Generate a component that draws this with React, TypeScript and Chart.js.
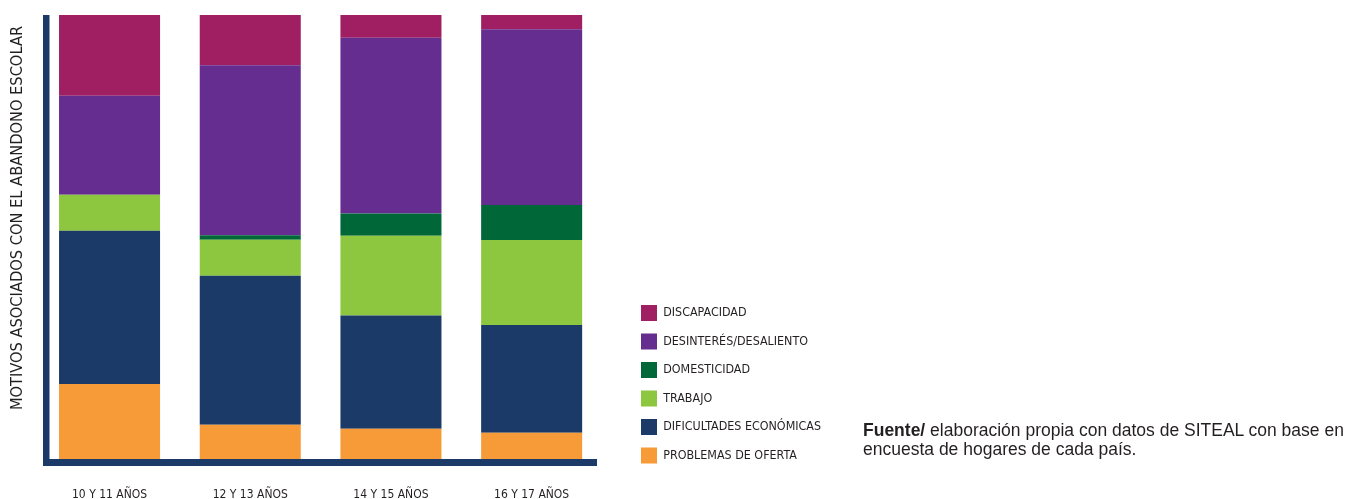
import React, { useEffect, useRef } from "react";
import { Chart, registerables } from "chart.js";

Chart.register(...registerables);

// ---- Data (percent share of each reason) ----
const CATEGORIES = ["10 Y 11 AÑOS", "12 Y 13 AÑOS", "14 Y 15 AÑOS", "16 Y 17 AÑOS"];
const PROBLEMAS_DE_OFERTA = [16.9, 7.7, 6.8, 5.9];
const DIFICULTADES_ECONOMICAS = [34.5, 33.6, 25.5, 24.3];
const TRABAJO = [8.1, 8.1, 18.0, 19.1];
const DOMESTICIDAD = [0, 1.0, 5.0, 7.9];
const DESINTERES_DESALIENTO = [22.3, 38.3, 39.6, 39.6];
const DISCAPACIDAD = [18.2, 11.3, 5.1, 3.2];

const SERIES_LABELS = [
  "PROBLEMAS DE OFERTA",
  "DIFICULTADES ECONÓMICAS",
  "TRABAJO",
  "DOMESTICIDAD",
  "DESINTERÉS/DESALIENTO",
  "DISCAPACIDAD",
];
const SERIES_VALUES = [
  PROBLEMAS_DE_OFERTA,
  DIFICULTADES_ECONOMICAS,
  TRABAJO,
  DOMESTICIDAD,
  DESINTERES_DESALIENTO,
  DISCAPACIDAD,
];
const SERIES_COLORS = ["#f79a38", "#1b3a67", "#8dc63f", "#006838", "#652d90", "#a01f62"];

const Y_TITLE = "MOTIVOS ASOCIADOS CON EL ABANDONO ESCOLAR";
const SOURCE_BOLD = "Fuente/";
const SOURCE_LINE1 = " elaboración propia con datos de SITEAL con base en";
const SOURCE_LINE2 = "encuesta de hogares de cada país.";

const NARROW = "'DejaVu Sans Condensed', 'Liberation Sans Narrow', sans-serif";
const TEXT_COLOR = "#231f20";
const AXIS_COLOR = "#1b3a67";

const CANVAS_W = 1348;
const CANVAS_H = 530;
const LEGEND_FONT = 12.4;
const LEGEND_BOX = 16;
const LEGEND_PAD = 12.5;
const LEGEND_LEFT = 628.5;

const axisLinesPlugin = {
  id: "axisLines",
  afterDatasetsDraw(chart: any) {
    const { ctx, chartArea } = chart;
    const { left, right, top, bottom } = chartArea;
    ctx.save();
    ctx.fillStyle = AXIS_COLOR;
    ctx.fillRect(left + 3.8, top, 6.5, bottom + 7 - top);
    ctx.fillRect(left + 3.8, bottom, right - 5 - (left + 3.8), 7);
    ctx.restore();
  },
};

const yTitlePlugin = {
  id: "yTitle",
  afterDraw(chart: any) {
    const { ctx } = chart;
    ctx.save();
    ctx.translate(18, 218);
    ctx.rotate(-Math.PI / 2);
    ctx.font = `16.3px ${NARROW}`;
    ctx.fillStyle = TEXT_COLOR;
    ctx.textAlign = "center";
    ctx.textBaseline = "middle";
    ctx.fillText(Y_TITLE, 0, 0);
    ctx.restore();
  },
};

export default function App() {
  const canvasRef = useRef<HTMLCanvasElement | null>(null);

  useEffect(() => {
    const canvas = canvasRef.current;
    if (!canvas) return;
    // width the legend will need, so it can start at the reference position
    const mctx = canvas.getContext("2d")!;
    mctx.font = `${LEGEND_FONT}px ${NARROW}`;
    const maxText = Math.max(...SERIES_LABELS.map((l) => mctx.measureText(l).width));
    const legendWidth = 10 + LEGEND_PAD + LEGEND_BOX + LEGEND_FONT / 2 + maxText;
    const padRight = CANVAS_W - LEGEND_LEFT - legendWidth;

    const datasets = SERIES_LABELS.map((label, i) => ({
      label,
      data: SERIES_VALUES[i],
      backgroundColor: SERIES_COLORS[i],
      borderWidth: 0,
      barPercentage: 0.718,
      categoryPercentage: 1,
    }));
    const chart = new Chart(canvas, {
      type: "bar",
      data: { labels: CATEGORIES, datasets },
      plugins: [axisLinesPlugin, yTitlePlugin],
      options: {
        responsive: false,
        animation: false,
        layout: { padding: { left: 39.2, top: 15, right: padRight, bottom: 0 } },
        plugins: {
          legend: {
            position: "right",
            align: "start",
            reverse: true,
            fullSize: true,
            title: { display: true, text: "", padding: { top: 265.5, bottom: 0 }, font: { size: 10 } },
            labels: {
              boxWidth: LEGEND_BOX,
              boxHeight: LEGEND_BOX,
              padding: LEGEND_PAD,
              color: TEXT_COLOR,
              font: { family: NARROW, size: LEGEND_FONT },
            },
          },
          tooltip: { enabled: false },
        },
        scales: {
          x: {
            stacked: true,
            grid: { display: false, drawTicks: false },
            border: { display: false },
            ticks: {
              padding: 28.3,
              color: TEXT_COLOR,
              font: { family: NARROW, size: 12 },
              maxRotation: 0,
              autoSkip: false,
            },
          },
          y: { stacked: true, display: false, min: 0, max: 100 },
          spacer: {
            type: "linear",
            position: "right",
            display: false,
            afterFit: (s: any) => {
              s.width = 26.5;
            },
          },
        },
      } as any,
    });
    return () => chart.destroy();
  }, []);

  return (
    <div
      style={{
        position: "fixed",
        left: 0,
        top: 0,
        width: CANVAS_W,
        height: 499,
        overflow: "hidden",
        background: "#ffffff",
      }}
    >
      <canvas
        ref={canvasRef}
        width={CANVAS_W}
        height={CANVAS_H}
        style={{ display: "block", width: CANVAS_W, height: CANVAS_H }}
      />
      <div
        style={{
          position: "absolute",
          left: 863,
          top: 421.4,
          fontFamily: "'Liberation Sans', Arial, sans-serif",
          fontSize: 17.5,
          lineHeight: "19px",
          color: TEXT_COLOR,
          whiteSpace: "nowrap",
        }}
      >
        <b>{SOURCE_BOLD}</b>
        {SOURCE_LINE1}
        <br />
        {SOURCE_LINE2}
      </div>
    </div>
  );
}
